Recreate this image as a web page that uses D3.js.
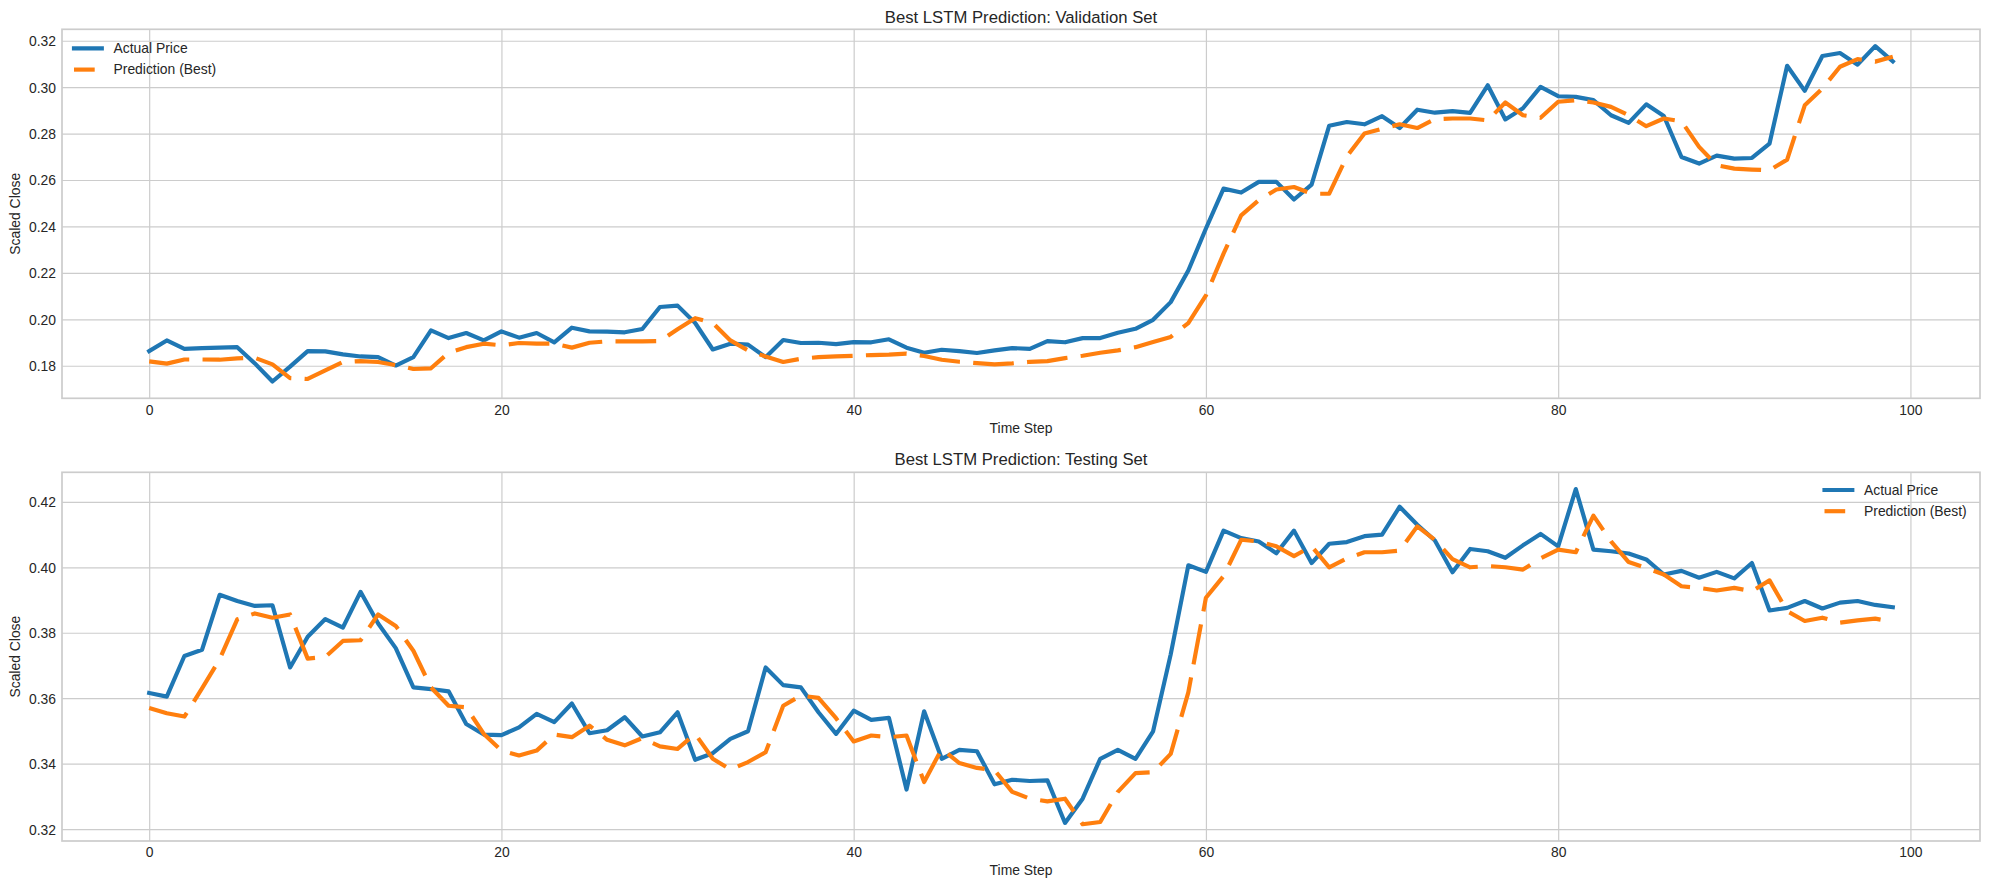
<!DOCTYPE html>
<html>
<head>
<meta charset="utf-8">
<script src="https://cdn.jsdelivr.net/npm/d3@7"></script>
<style>
  html, body { margin: 0; padding: 0; background: #ffffff; }
  svg { display: block; font-family: "Liberation Sans", Arial, sans-serif; }
</style>
</head>
<body>
<svg id="chart" width="1990" height="889"></svg>
<script>
// ---------------- DATA ----------------
const timeSteps = d3.range(100);

const valActual = [
  0.1863, 0.1909, 0.1873, 0.1876, 0.1878, 0.1880, 0.1810, 0.1732, 0.1796, 0.1863,
  0.1862, 0.1849, 0.1840, 0.1837, 0.1801, 0.1837, 0.1952, 0.1919, 0.1941, 0.1909,
  0.1948, 0.1921, 0.1941, 0.1901, 0.1964, 0.1948, 0.1947, 0.1944, 0.1958, 0.2053,
  0.2059, 0.1984, 0.1870, 0.1895, 0.1891, 0.1837, 0.1911, 0.1898, 0.1899, 0.1893,
  0.1902, 0.1901, 0.1914, 0.1878, 0.1856, 0.1869, 0.1863, 0.1855, 0.1866, 0.1876,
  0.1873, 0.1906, 0.1901, 0.1919, 0.1919, 0.1942, 0.1959, 0.1998, 0.2074, 0.2210,
  0.2391, 0.2563, 0.2546, 0.2592, 0.2592, 0.2516, 0.2580, 0.2834, 0.2850, 0.2840,
  0.2875, 0.2824, 0.2903, 0.2890, 0.2897, 0.2889, 0.3008, 0.2861, 0.2909, 0.3001,
  0.2961, 0.2958, 0.2944, 0.2879, 0.2846, 0.2926, 0.2876, 0.2699, 0.2671, 0.2705,
  0.2692, 0.2695, 0.2757, 0.3092, 0.2984, 0.3134, 0.3147, 0.3097, 0.3177, 0.3111
];

const valPred = [
  0.1819, 0.1809, 0.1827, 0.1827, 0.1826, 0.1832, 0.1834, 0.1806, 0.1747, 0.1743,
  0.1780, 0.1816, 0.1820, 0.1816, 0.1803, 0.1786, 0.1789, 0.1856, 0.1880, 0.1895,
  0.1888, 0.1898, 0.1895, 0.1895, 0.1878, 0.1899, 0.1905, 0.1905, 0.1905, 0.1906,
  0.1957, 0.2005, 0.1984, 0.1909, 0.1866, 0.1840, 0.1816, 0.1830, 0.1837, 0.1840,
  0.1843, 0.1846, 0.1848, 0.1852, 0.1842, 0.1826, 0.1817, 0.1811, 0.1806, 0.1810,
  0.1817, 0.1820, 0.1833, 0.1843, 0.1856, 0.1866, 0.1880, 0.1902, 0.1924, 0.1984,
  0.2103, 0.2283, 0.2448, 0.2513, 0.2559, 0.2570, 0.2541, 0.2541, 0.2702, 0.2800,
  0.2821, 0.2840, 0.2824, 0.2862, 0.2865, 0.2865, 0.2857, 0.2934, 0.2879, 0.2868,
  0.2937, 0.2944, 0.2934, 0.2915, 0.2879, 0.2832, 0.2865, 0.2853, 0.2743, 0.2664,
  0.2649, 0.2645, 0.2642, 0.2688, 0.2922, 0.2994, 0.3088, 0.3121, 0.3110, 0.3131
];

const testActual = [
  0.3616, 0.3605, 0.3729, 0.3748, 0.3916, 0.3897, 0.3882, 0.3884, 0.3694, 0.3788,
  0.3842, 0.3816, 0.3925, 0.3828, 0.3753, 0.3633, 0.3628, 0.3621, 0.3521, 0.3489,
  0.3487, 0.3511, 0.3552, 0.3527, 0.3584, 0.3493, 0.3502, 0.3542, 0.3483, 0.3496,
  0.3557, 0.3412, 0.3432, 0.3476, 0.3499, 0.3694, 0.3640, 0.3633, 0.3557, 0.3491,
  0.3562, 0.3534, 0.3540, 0.3321, 0.3560, 0.3415, 0.3442, 0.3438, 0.3337, 0.3351,
  0.3347, 0.3349, 0.3219, 0.3293, 0.3415, 0.3442, 0.3415, 0.3499, 0.3734, 0.4006,
  0.3986, 0.4112, 0.4089, 0.4079, 0.4043, 0.4112, 0.4013, 0.4072, 0.4077, 0.4095,
  0.4100, 0.4185, 0.4130, 0.4082, 0.3985, 0.4056, 0.4049, 0.4029, 0.4067, 0.4102,
  0.4064, 0.4239, 0.4054, 0.4049, 0.4042, 0.4024, 0.3978, 0.3989, 0.3968, 0.3986,
  0.3966, 0.4013, 0.3868, 0.3876, 0.3897, 0.3874, 0.3892, 0.3897, 0.3885, 0.3878
];

const testPred = [
  0.3570, 0.3554, 0.3544, 0.3630, 0.3719, 0.3841, 0.3859, 0.3846, 0.3856, 0.3721,
  0.3726, 0.3775, 0.3777, 0.3856, 0.3821, 0.3745, 0.3633, 0.3577, 0.3572, 0.3491,
  0.3440, 0.3425, 0.3440, 0.3489, 0.3481, 0.3516, 0.3473, 0.3456, 0.3478, 0.3453,
  0.3445, 0.3491, 0.3415, 0.3382, 0.3405, 0.3435, 0.3577, 0.3608, 0.3601, 0.3539,
  0.3468, 0.3486, 0.3481, 0.3486, 0.3344, 0.3445, 0.3402, 0.3387, 0.3380, 0.3314,
  0.3293, 0.3285, 0.3293, 0.3215, 0.3222, 0.3314, 0.3371, 0.3374, 0.3430, 0.3618,
  0.3907, 0.3973, 0.4084, 0.4079, 0.4064, 0.4034, 0.4064, 0.4000, 0.4027, 0.4046,
  0.4046, 0.4051, 0.4125, 0.4084, 0.4025, 0.4000, 0.4004, 0.4000, 0.3993, 0.4027,
  0.4054, 0.4046, 0.4158, 0.4079, 0.4016, 0.3998, 0.3978, 0.3942, 0.3937, 0.3929,
  0.3937, 0.3927, 0.3960, 0.3866, 0.3836, 0.3846, 0.3831, 0.3838, 0.3843, 0.3834
];

const xTicks = [0, 20, 40, 60, 80, 100];
const valYTicks = [0.18, 0.20, 0.22, 0.24, 0.26, 0.28, 0.30, 0.32];
const testYTicks = [0.32, 0.34, 0.36, 0.38, 0.40, 0.42];
const seriesNames = ["Actual Price", "Prediction (Best)"];
const titles = ["Best LSTM Prediction: Validation Set", "Best LSTM Prediction: Testing Set"];

// ---------------- DRAW ----------------
const svg = d3.select("#chart");
svg.append("rect").attr("width", 1990).attr("height", 889).attr("fill", "#ffffff");

const TEXT = "#262626";
const GRID = "#cccccc";
const BLUE = "#1f77b4";
const ORANGE = "#ff7f0e";
const LEFT = 62, RIGHT = 1980;

function panel(cfg) {
  const g = svg.append("g");
  const x = d3.scaleLinear().domain([-4.95, 103.95]).range([LEFT, RIGHT]);
  const all = cfg.actual.concat(cfg.pred);
  const lo = d3.min(all), hi = d3.max(all), m = (hi - lo) * 0.05;
  const y = d3.scaleLinear().domain([lo - m, hi + m]).range([cfg.bottom, cfg.top]);

  // grid via axes
  const xAxis = d3.axisBottom(x).tickValues(xTicks).tickSize(-(cfg.bottom - cfg.top)).tickFormat(d3.format("d")).tickPadding(0);
  const xg = g.append("g").attr("transform", `translate(0,${cfg.bottom})`).call(xAxis);
  xg.select(".domain").remove();
  xg.selectAll(".tick line").attr("stroke", GRID).attr("stroke-width", 1.2);
  xg.selectAll(".tick text").attr("fill", TEXT).attr("font-size", "13.9px")
    .attr("y", cfg.xTickBase - cfg.bottom).attr("dy", 0);

  const yAxis = d3.axisLeft(y).tickValues(cfg.yTicks).tickSize(-(RIGHT - LEFT)).tickFormat(d3.format(".2f")).tickPadding(0);
  const yg = g.append("g").attr("transform", `translate(${LEFT},0)`).call(yAxis);
  yg.select(".domain").remove();
  yg.selectAll(".tick line").attr("stroke", GRID).attr("stroke-width", 1.2);
  yg.selectAll(".tick text").attr("fill", TEXT).attr("font-size", "13.9px")
    .attr("x", -6).attr("dy", "0.35em");

  // frame
  g.append("rect").attr("x", LEFT).attr("y", cfg.top)
    .attr("width", RIGHT - LEFT).attr("height", cfg.bottom - cfg.top)
    .attr("fill", "none").attr("stroke", GRID).attr("stroke-width", 1.7);

  // clip
  const clipId = "clip" + cfg.id;
  g.append("clipPath").attr("id", clipId).append("rect")
    .attr("x", LEFT).attr("y", cfg.top).attr("width", RIGHT - LEFT).attr("height", cfg.bottom - cfg.top);

  const line = d3.line().x((d, i) => x(timeSteps[i])).y(d => y(d));
  const lines = g.append("g").attr("clip-path", `url(#${clipId})`);
  lines.append("path").datum(cfg.actual).attr("d", line)
    .attr("fill", "none").attr("stroke", BLUE).attr("stroke-width", 4.17)
    .attr("stroke-linejoin", "round").attr("stroke-linecap", "square");
  lines.append("path").datum(cfg.pred).attr("d", line)
    .attr("fill", "none").attr("stroke", ORANGE).attr("stroke-width", 4.17)
    .attr("stroke-linejoin", "round").attr("stroke-linecap", "butt")
    .attr("stroke-dasharray", "40.7,13.3");

  // title
  g.append("text").attr("x", (LEFT + RIGHT) / 2).attr("y", cfg.titleBase)
    .attr("text-anchor", "middle").attr("fill", TEXT).attr("font-size", "16.7px").text(cfg.title);
  // x label
  g.append("text").attr("x", (LEFT + RIGHT) / 2).attr("y", cfg.xLabelBase)
    .attr("text-anchor", "middle").attr("fill", TEXT).attr("font-size", "13.9px").text("Time Step");
  // y label
  g.append("text").attr("transform", `translate(15,${(cfg.top + cfg.bottom) / 2}) rotate(-90)`)
    .attr("text-anchor", "middle").attr("dy", "0.35em").attr("fill", TEXT).attr("font-size", "13.9px").text("Scaled Close");

  // legend
  const lg = g.append("g");
  const colors = [BLUE, ORANGE];
  seriesNames.forEach((name, i) => {
    const yy = cfg.legY + i * 21.2;
    const l = lg.append("line").attr("x1", cfg.legX + 2).attr("x2", cfg.legX + 29.8)
      .attr("y1", yy).attr("y2", yy).attr("stroke", colors[i]).attr("stroke-width", 4.17);
    if (i === 0) l.attr("stroke-linecap", "square");
    else l.attr("stroke-dasharray", "20.7,20").attr("stroke-linecap", "butt");
    lg.append("text").attr("x", cfg.legX + 41.5).attr("y", yy).attr("dy", "0.35em")
      .attr("fill", TEXT).attr("font-size", "13.9px").text(name);
  });
}

panel({ id: 0, actual: valActual, pred: valPred, yTicks: valYTicks, title: titles[0],
  top: 29.3, bottom: 398.3, titleBase: 22.6, xTickBase: 415, xLabelBase: 433,
  legX: 72, legY: 48.4 });
panel({ id: 1, actual: testActual, pred: testPred, yTicks: testYTicks, title: titles[1],
  top: 472.3, bottom: 841, titleBase: 465, xTickBase: 857.3, xLabelBase: 875.3,
  legX: 1822.5, legY: 490 });
</script>
</body>
</html>
